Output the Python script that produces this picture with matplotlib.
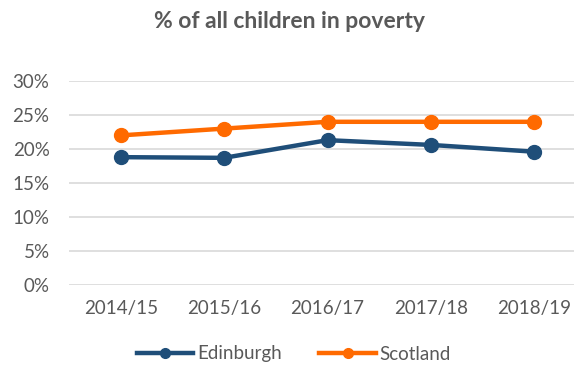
import matplotlib.pyplot as plt
import matplotlib.ticker as plticker

years = ["2014/15", "2015/16", "2016/17", "2017/18", "2018/19"]
edinburgh = [18.8, 18.7, 21.3, 20.6, 19.6]
scotland = [22, 23, 24, 24, 24]

plt.rcParams['font.family'] = ['Lato', 'DejaVu Sans']

fig = plt.figure(figsize=(5.74, 3.65), dpi=100)
# axes run slightly past the right edge, like the original export
ax = fig.add_axes([69/574, 1-285/365, 517/574, 204/365])

x = range(len(years))
ax.plot(x, edinburgh, color='#1F4E79', lw=3.2, marker='o', ms=10, label='Edinburgh', zorder=3)
ax.plot(x, scotland, color='#FF6A00', lw=3.2, marker='o', ms=10, label='Scotland', zorder=3)

ax.set_xlim(-0.5, len(years) - 0.5)
ax.set_ylim(0, 30)
ax.yaxis.set_major_locator(plticker.MultipleLocator(5))
ax.yaxis.set_major_formatter(plticker.FuncFormatter(lambda v, p: '{:d}%'.format(int(v))))
ax.set_xticks(list(x))
ax.set_xticklabels(years)
ax.tick_params(length=0, labelsize=13.5, colors='#595959', pad=14)
ax.tick_params(axis='x', pad=11)

ax.grid(axis='y', color='#D9D9D9', lw=1.2)
ax.set_axisbelow(True)
for s in ax.spines.values():
    s.set_visible(False)

fig.text(289/574, 1-22/365, '% of all children in poverty', ha='center', va='center',
         fontsize=16.5, fontweight='bold', color='#595959')

fig.legend(loc='center', bbox_to_anchor=(294/574, 1-354/365), ncol=2, frameon=False,
           fontsize=13.5, labelcolor='#595959', handlelength=3, handletextpad=0.2,
           columnspacing=2.0, markerscale=0.7)

plt.savefig('out.png', dpi=100)
